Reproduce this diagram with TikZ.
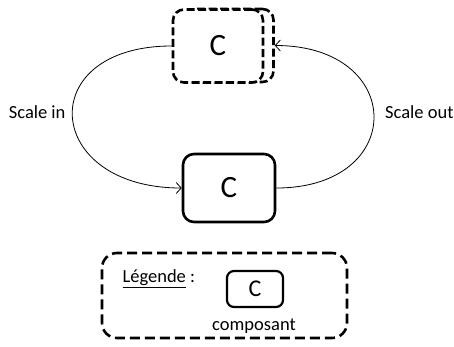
\documentclass[tikz,border=0pt]{standalone}
\usepackage{fontspec}
\setmainfont{Carlito}
\usetikzlibrary{arrows.meta}
\begin{document}
\begin{tikzpicture}[x=1pt, y=-1pt,
  comp/.style={draw, line width=2.6pt, rounded corners=11pt, minimum width=90pt, minimum height=73pt, font=\fontsize{31}{32}\selectfont},
  dashcomp/.style={comp, dash pattern=on 8pt off 3.5pt},
  trans/.style={line width=0.8pt, -{Straight Barb[length=5pt,width=11pt]}},
  lbl/.style={font=\fontsize{18.5}{20}\selectfont}]
  \useasboundingbox (0,0) rectangle (454,346);

  % Component with its copy (scaled state)
  \node[dashcomp] (copy) at (228.5, 45.5) {};
  \node[dashcomp, fill=white] (top) at (218, 46) {C};

  % Single component
  \node[comp, minimum width=92pt, minimum height=68pt] (bot) at (229, 188) {C};

  % Transitions
  \draw[trans] (top.west) to[out=180, in=180, looseness=2.5] (bot.west);
  \draw[trans] (bot.east) to[out=0, in=0, looseness=2.35] (copy.east);
  \node[lbl, anchor=east] (in) at (69, 112) {Scale in};
  \node[lbl, anchor=west, inner xsep=1pt] (out) at (384, 112) {Scale out};

  % Legend
  \node[draw, line width=2.6pt, dash pattern=on 10pt off 5pt, rounded corners=15pt, minimum width=245pt, minimum height=85pt] (leg) at (224.5, 295.5) {};
  \node[lbl, anchor=west] (legtxt) at (119, 279) {\underline{Légende} :};
  \node[comp, line width=2.2pt, rounded corners=7pt, minimum width=56pt, minimum height=36pt, font=\fontsize{24}{25}\selectfont] (legc) at (255, 289) {C};
  \node[lbl] (legname) at (254, 326) {composant};
\end{tikzpicture}
\end{document}
